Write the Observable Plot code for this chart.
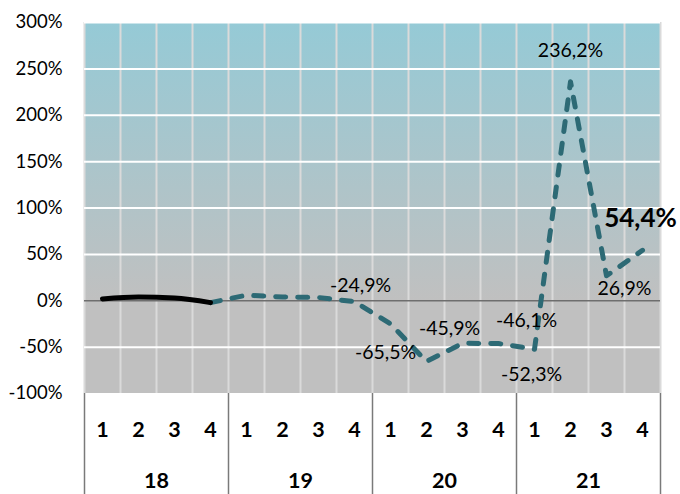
<!DOCTYPE html>
<html>
<head>
<meta charset="utf-8">
<script src="https://cdn.jsdelivr.net/npm/d3@7"></script>
<script src="https://cdn.jsdelivr.net/npm/@observablehq/plot@0.6"></script>
<style>
  html, body { margin: 0; padding: 0; background: #fff; }
  #chart { width: 680px; height: 494px; overflow: hidden; }
</style>
</head>
<body>
<div id="chart"></div>
<script>
// ---- data ----
const years = ["18", "19", "20", "21"];
const quarterLabels = ["1", "2", "3", "4", "1", "2", "3", "4", "1", "2", "3", "4", "1", "2", "3", "4"];
const values = [2, 4, 3, -2, 6, 4, 3.5, -1, -24.9, -65.5, -45.9, -46.1, -52.3, 236.2, 26.9, 54.4];
const labelIndex = [8, 9, 10, 11, 12, 13, 14, 15];
const labelText = ["-24,9%", "-65,5%", "-45,9%", "-46,1%", "-52,3%", "236,2%", "26,9%", "54,4%"];
const yTicks = [-100, -50, 0, 50, 100, 150, 200, 250, 300];

// ---- label placement (style, not data) ----
const labelOffsets = [[-30, -38], [-41, -9], [-13, -15], [28, -23], [-3, 25], [0, -31], [18, 13], [-2, -32]];

const pts = values.map((v, i) => ({i, v}));
const solid = pts.slice(0, 4);
const dashed = pts.slice(3);
const yDomain = [d3.min(yTicks), d3.max(yTicks)];
const xDomain = [-0.5, values.length - 0.5];
const belowAxis = yDomain[0] - 110; // extends dividers under the frame

const labelMarks = labelIndex.map((idx, k) => {
  const last = k === labelIndex.length - 1;
  return Plot.text([{i: idx, v: values[idx], t: labelText[k]}], {
    x: "i", y: "v", text: "t",
    dx: labelOffsets[k][0], dy: labelOffsets[k][1],
    fontSize: last ? 26 : 19.5,
    fontWeight: last ? "bold" : "normal",
    fill: "#000"
  });
});

const chart = Plot.plot({
  width: 680,
  height: 494,
  marginLeft: 84,
  marginRight: 20,
  marginTop: 22,
  marginBottom: 101,
  x: {domain: xDomain, axis: null},
  y: {domain: yDomain},
  style: {fontFamily: "Lato, 'Open Sans', sans-serif", fontSize: "18px", color: "#000", background: "#fff"},
  marks: [
    Plot.rect([0], {x1: xDomain[0], x2: xDomain[1], y1: yDomain[0], y2: yDomain[1], fill: "url(#bgGrad)"}),
    Plot.ruleX(d3.range(xDomain[0], xDomain[1] + 0.01, 1), {stroke: "#dadada", strokeWidth: 2}),
    Plot.ruleY(yTicks.filter(d => d !== 0 && d !== yDomain[0]), {x1: xDomain[0], x2: xDomain[1], stroke: "#fff", strokeWidth: 2}),
    Plot.ruleY([0], {x1: xDomain[0], x2: xDomain[1], stroke: "#6e6e6e", strokeWidth: 1.6}),
    Plot.axisY({ticks: yTicks, tickFormat: d => d + "%", tickSize: 0, tickPadding: 22, label: null, fontSize: 18.5}),
    Plot.ruleX(d3.range(xDomain[0], xDomain[1] + 0.01, 4), {y1: yDomain[0], y2: belowAxis, stroke: "#7a7a7a", strokeWidth: 1.5}),
    Plot.text(quarterLabels.map((q, i) => ({i, q})), {x: "i", y: () => yDomain[0], text: "q", dy: 37, fontWeight: "bold", fontSize: 21.5, fill: "#000"}),
    Plot.text(years.map((y, k) => ({x: 4 * k + 1.5, y})), {x: "x", y: () => yDomain[0], text: "y", dy: 88, fontWeight: "bold", fontSize: 21.5, fill: "#000"}),
    Plot.line(dashed, {x: "i", y: "v", stroke: "#2d6a75", strokeWidth: 5, strokeDasharray: "10,12", strokeLinecap: "round", strokeLinejoin: "round", curve: "linear"}),
    Plot.line(solid, {x: "i", y: "v", stroke: "#000", strokeWidth: 5, strokeLinecap: "round", strokeLinejoin: "round", curve: "monotone-x"}),
    ...labelMarks
  ]
});

// gradient background: teal at top fading to gray at 0%, flat gray below
const zeroOffset = (yDomain[1] - 0) / (yDomain[1] - yDomain[0]);
const ns = "http://www.w3.org/2000/svg";
const defs = document.createElementNS(ns, "defs");
const grad = document.createElementNS(ns, "linearGradient");
grad.setAttribute("id", "bgGrad");
grad.setAttribute("x1", "0"); grad.setAttribute("y1", "0");
grad.setAttribute("x2", "0"); grad.setAttribute("y2", "1");
[[0, "#95cad6"], [zeroOffset, "#c0c0c0"], [1, "#c0c0c0"]].forEach(([o, c]) => {
  const s = document.createElementNS(ns, "stop");
  s.setAttribute("offset", o);
  s.setAttribute("stop-color", c);
  grad.appendChild(s);
});
defs.appendChild(grad);
chart.insertBefore(defs, chart.firstChild);

document.getElementById("chart").appendChild(chart);
</script>
</body>
</html>
